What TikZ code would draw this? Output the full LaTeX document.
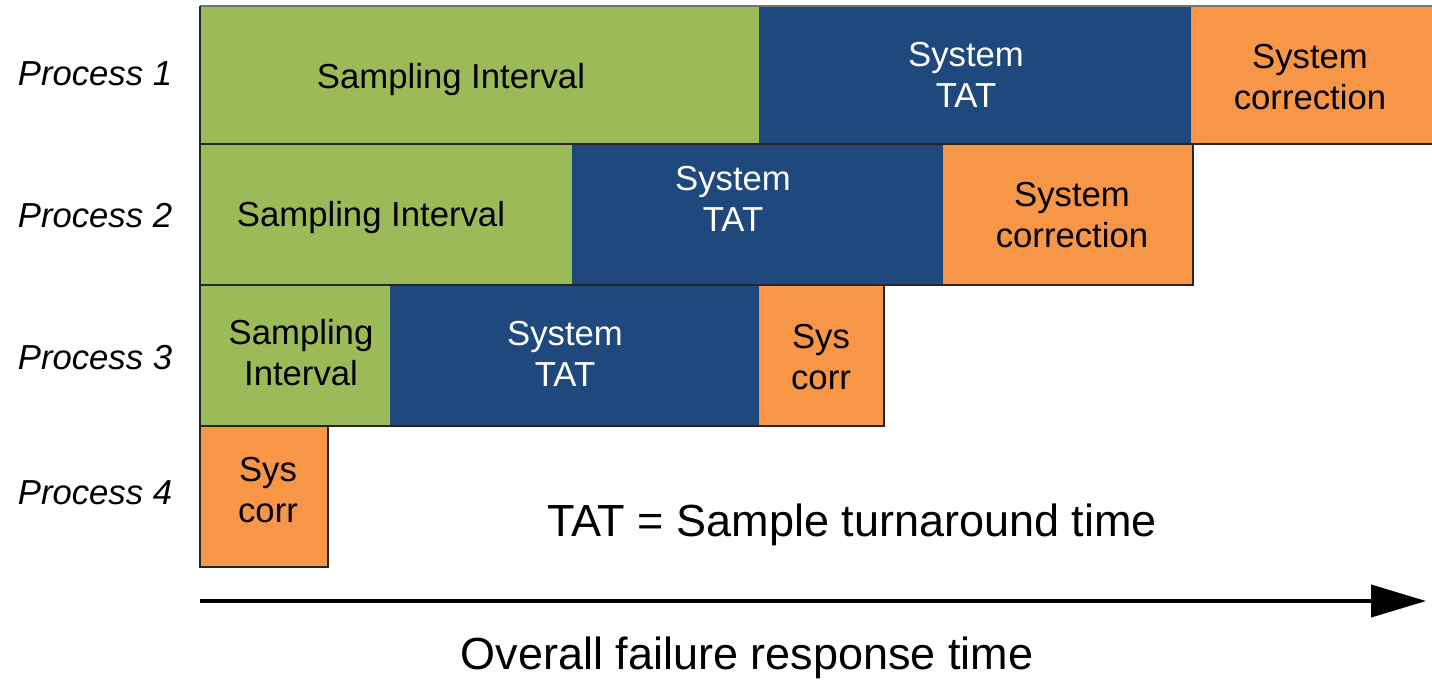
\documentclass[tikz,border=0pt]{standalone}
\usepackage{fontspec}
\setmainfont{Liberation Sans}
\usetikzlibrary{arrows.meta}
\definecolor{sgreen}{HTML}{9BBB59}
\definecolor{sblue}{HTML}{1F497D}
\definecolor{sorange}{HTML}{F79646}
\definecolor{frame}{HTML}{262626}
\begin{document}
\begin{tikzpicture}[x=1pt,y=-1pt,
  seg/.style={draw=none, inner sep=0pt, outer sep=0pt, anchor=north west},
  gseg/.style={seg, fill=sgreen},
  bseg/.style={seg, fill=sblue},
  oseg/.style={seg, fill=sorange},
  boxtext/.style={font=\fontsize{34.7}{41}\selectfont, align=center, inner sep=0pt},
  wtext/.style={boxtext, text=white},
  proc/.style={font=\fontsize{34.7}{41}\selectfont\itshape, inner sep=0pt},
  bigtext/.style={font=\fontsize{45}{50}\selectfont, inner sep=0pt},
  rowframe/.style={draw=frame, line width=2.5pt}]
\clip (0,0) rectangle (1432,681);
\fill[white] (0,0) rectangle (1432,681);
% Row 1
\node[gseg, minimum width=559pt, minimum height=138pt] (g1) at (200,6) {};
\node[bseg, minimum width=432pt, minimum height=138pt] (b1) at (759,6) {};
\node[oseg, minimum width=260pt, minimum height=138pt] (o1) at (1191,6) {};
% Row 2
\node[gseg, minimum width=372pt, minimum height=141pt] (g2) at (200,144) {};
\node[bseg, minimum width=371pt, minimum height=141pt] (b2) at (572,144) {};
\node[oseg, minimum width=250pt, minimum height=141pt] (o2) at (943,144) {};
% Row 3
\node[gseg, minimum width=190pt, minimum height=141pt] (g3) at (200,285) {};
\node[bseg, minimum width=369pt, minimum height=141pt] (b3) at (390,285) {};
\node[oseg, minimum width=125pt, minimum height=141pt] (o3) at (759,285) {};
% Row 4
\node[oseg, minimum width=128pt, minimum height=141pt] (o4) at (200,426) {};
% Frames
\draw[rowframe, draw=black!55] (200,6) -- (1451,6);
\draw[rowframe] (1451,144) -- (200,144) -- (200,6);
\draw[rowframe] (200,144) rectangle (1193,285);
\draw[rowframe] (200,285) rectangle (884,426);
\draw[rowframe] (200,426) rectangle (328,567);
% Texts row 1
\node[boxtext] (t1g) at (451,80) {Sampling Interval};
\node[wtext] (t1b) at (966,75) {System\\TAT};
\node[boxtext] (t1o) at (1310,77) {System\\correction};
% Texts row 2
\node[boxtext] (t2g) at (371,218) {Sampling Interval};
\node[wtext] (t2b) at (733,199) {System\\TAT};
\node[boxtext] (t2o) at (1072,215) {System\\correction};
% Texts row 3
\node[boxtext] (t3g) at (301,353) {Sampling\\Interval};
\node[wtext] (t3b) at (565,354) {System\\TAT};
\node[boxtext] (t3o) at (821,357) {Sys\\corr};
% Texts row 4
\node[boxtext] (t4o) at (268,490) {Sys\\corr};
% Process labels
\node[proc] (p1) at (95,74) {Process 1};
\node[proc] (p2) at (95,216) {Process 2};
\node[proc] (p3) at (95,358) {Process 3};
\node[proc] (p4) at (95,493) {Process 4};
% Legend and axis
\node[bigtext] (tat) at (852,525) {TAT = Sample turnaround time};
\coordinate (as) at (200,601);
\coordinate (ae) at (1426,601);
\draw[line width=4pt, -{Triangle[length=55pt,width=32pt]}] (as) -- (ae);
\node[bigtext] (ov) at (747,658) {Overall failure response time};
\end{tikzpicture}
\end{document}
